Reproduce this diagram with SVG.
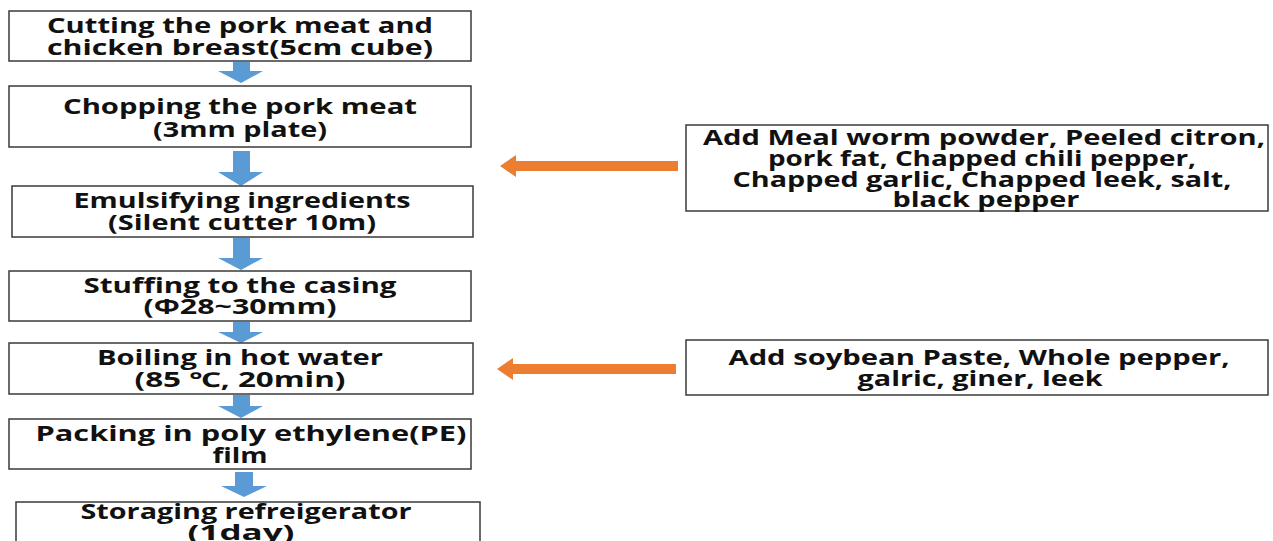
<svg xmlns="http://www.w3.org/2000/svg" width="1273" height="541" viewBox="0 0 1273 541">
<style>
.box{fill:#fff;stroke:#3a3a3a;stroke-width:1.5}
.t{font-family:"Open Sans","Noto Sans",sans-serif;font-weight:bold;font-size:20.5px;fill:#111;text-anchor:middle}
.blue{fill:#5B9BD5}
.orange{fill:#ED7D31}
</style>
<rect width="1273" height="541" fill="#fff"/>
<g id="connectors">
<path class="blue" d="M233,62 H250 V71 H263 L241,83 L218,71 H233 Z"/>
<path class="blue" d="M233,151 H250 V172 H263 L241,186 L218,172 H233 Z"/>
<path class="blue" d="M233,238 H250 V258 H263 L241,270 L218,258 H233 Z"/>
<path class="blue" d="M233,322 H250 V332 H263 L241,343 L218,332 H233 Z"/>
<path class="blue" d="M233,395 H250 V406 H263 L241,418 L218,406 H233 Z"/>
<path class="blue" d="M235,472 H253 V486 H267 L244,497 L221,486 H235 Z"/>
<path class="orange" d="M678,161 V171 H516 V177 L500,166 L516,155 V161 Z"/>
<path class="orange" d="M676,364 V374 H513 V380 L497,369 L513,358 V364 Z"/>
</g>
<g id="n1"><rect class="box" x="9" y="11" width="462" height="50"/>
<text class="t" x="240" y="33" textLength="386" lengthAdjust="spacingAndGlyphs">Cutting the pork meat and</text>
<text class="t" x="240" y="55" textLength="386" lengthAdjust="spacingAndGlyphs">chicken breast(5cm cube)</text></g>
<g id="n2"><rect class="box" x="9" y="86" width="462" height="61"/>
<text class="t" x="240" y="114" textLength="354" lengthAdjust="spacingAndGlyphs">Chopping the pork meat</text>
<text class="t" x="240" y="137" textLength="174" lengthAdjust="spacingAndGlyphs">(3mm plate)</text></g>
<g id="n3"><rect class="box" x="12" y="186" width="461" height="51"/>
<text class="t" x="242" y="208" textLength="337" lengthAdjust="spacingAndGlyphs">Emulsifying ingredients</text>
<text class="t" x="242" y="230" textLength="268" lengthAdjust="spacingAndGlyphs">(Silent cutter 10m)</text></g>
<g id="n4"><rect class="box" x="9" y="271" width="462" height="50"/>
<text class="t" x="240" y="293" textLength="313" lengthAdjust="spacingAndGlyphs">Stuffing to the casing</text>
<text class="t" x="240" y="314" textLength="193" lengthAdjust="spacingAndGlyphs">(Φ28~30mm)</text></g>
<g id="n5"><rect class="box" x="9" y="343" width="464" height="51"/>
<text class="t" x="240" y="365" textLength="286" lengthAdjust="spacingAndGlyphs">Boiling in hot water</text>
<text class="t" x="240" y="387" textLength="211" lengthAdjust="spacingAndGlyphs">(85 ℃, 20min)</text></g>
<g id="n6"><rect class="box" x="9" y="419" width="462" height="50"/>
<text class="t" x="251" y="441" textLength="431" lengthAdjust="spacingAndGlyphs">Packing in poly ethylene(PE)</text>
<text class="t" x="240" y="463" textLength="55" lengthAdjust="spacingAndGlyphs">film</text></g>
<g id="n7"><rect class="box" x="16" y="502" width="464" height="50"/>
<text class="t" x="246" y="519" textLength="331" lengthAdjust="spacingAndGlyphs">Storaging refreigerator</text>
<text class="t" x="241" y="540" textLength="107" lengthAdjust="spacingAndGlyphs">(1day)</text></g>
<g id="r1"><rect class="box" x="686" y="125" width="582" height="86"/>
<text class="t" x="984" y="145" textLength="562" lengthAdjust="spacingAndGlyphs">Add Meal worm powder, Peeled citron,</text>
<text class="t" x="982" y="166" textLength="428" lengthAdjust="spacingAndGlyphs">pork fat, Chapped chili pepper,</text>
<text class="t" x="982" y="187" textLength="499" lengthAdjust="spacingAndGlyphs">Chapped garlic, Chapped leek, salt,</text>
<text class="t" x="986" y="207" textLength="187" lengthAdjust="spacingAndGlyphs">black pepper</text></g>
<g id="r2"><rect class="box" x="686" y="340" width="582" height="55"/>
<text class="t" x="979" y="365" textLength="501" lengthAdjust="spacingAndGlyphs">Add soybean Paste, Whole pepper,</text>
<text class="t" x="980" y="386" textLength="245" lengthAdjust="spacingAndGlyphs">galric, giner, leek</text></g>
</svg>
